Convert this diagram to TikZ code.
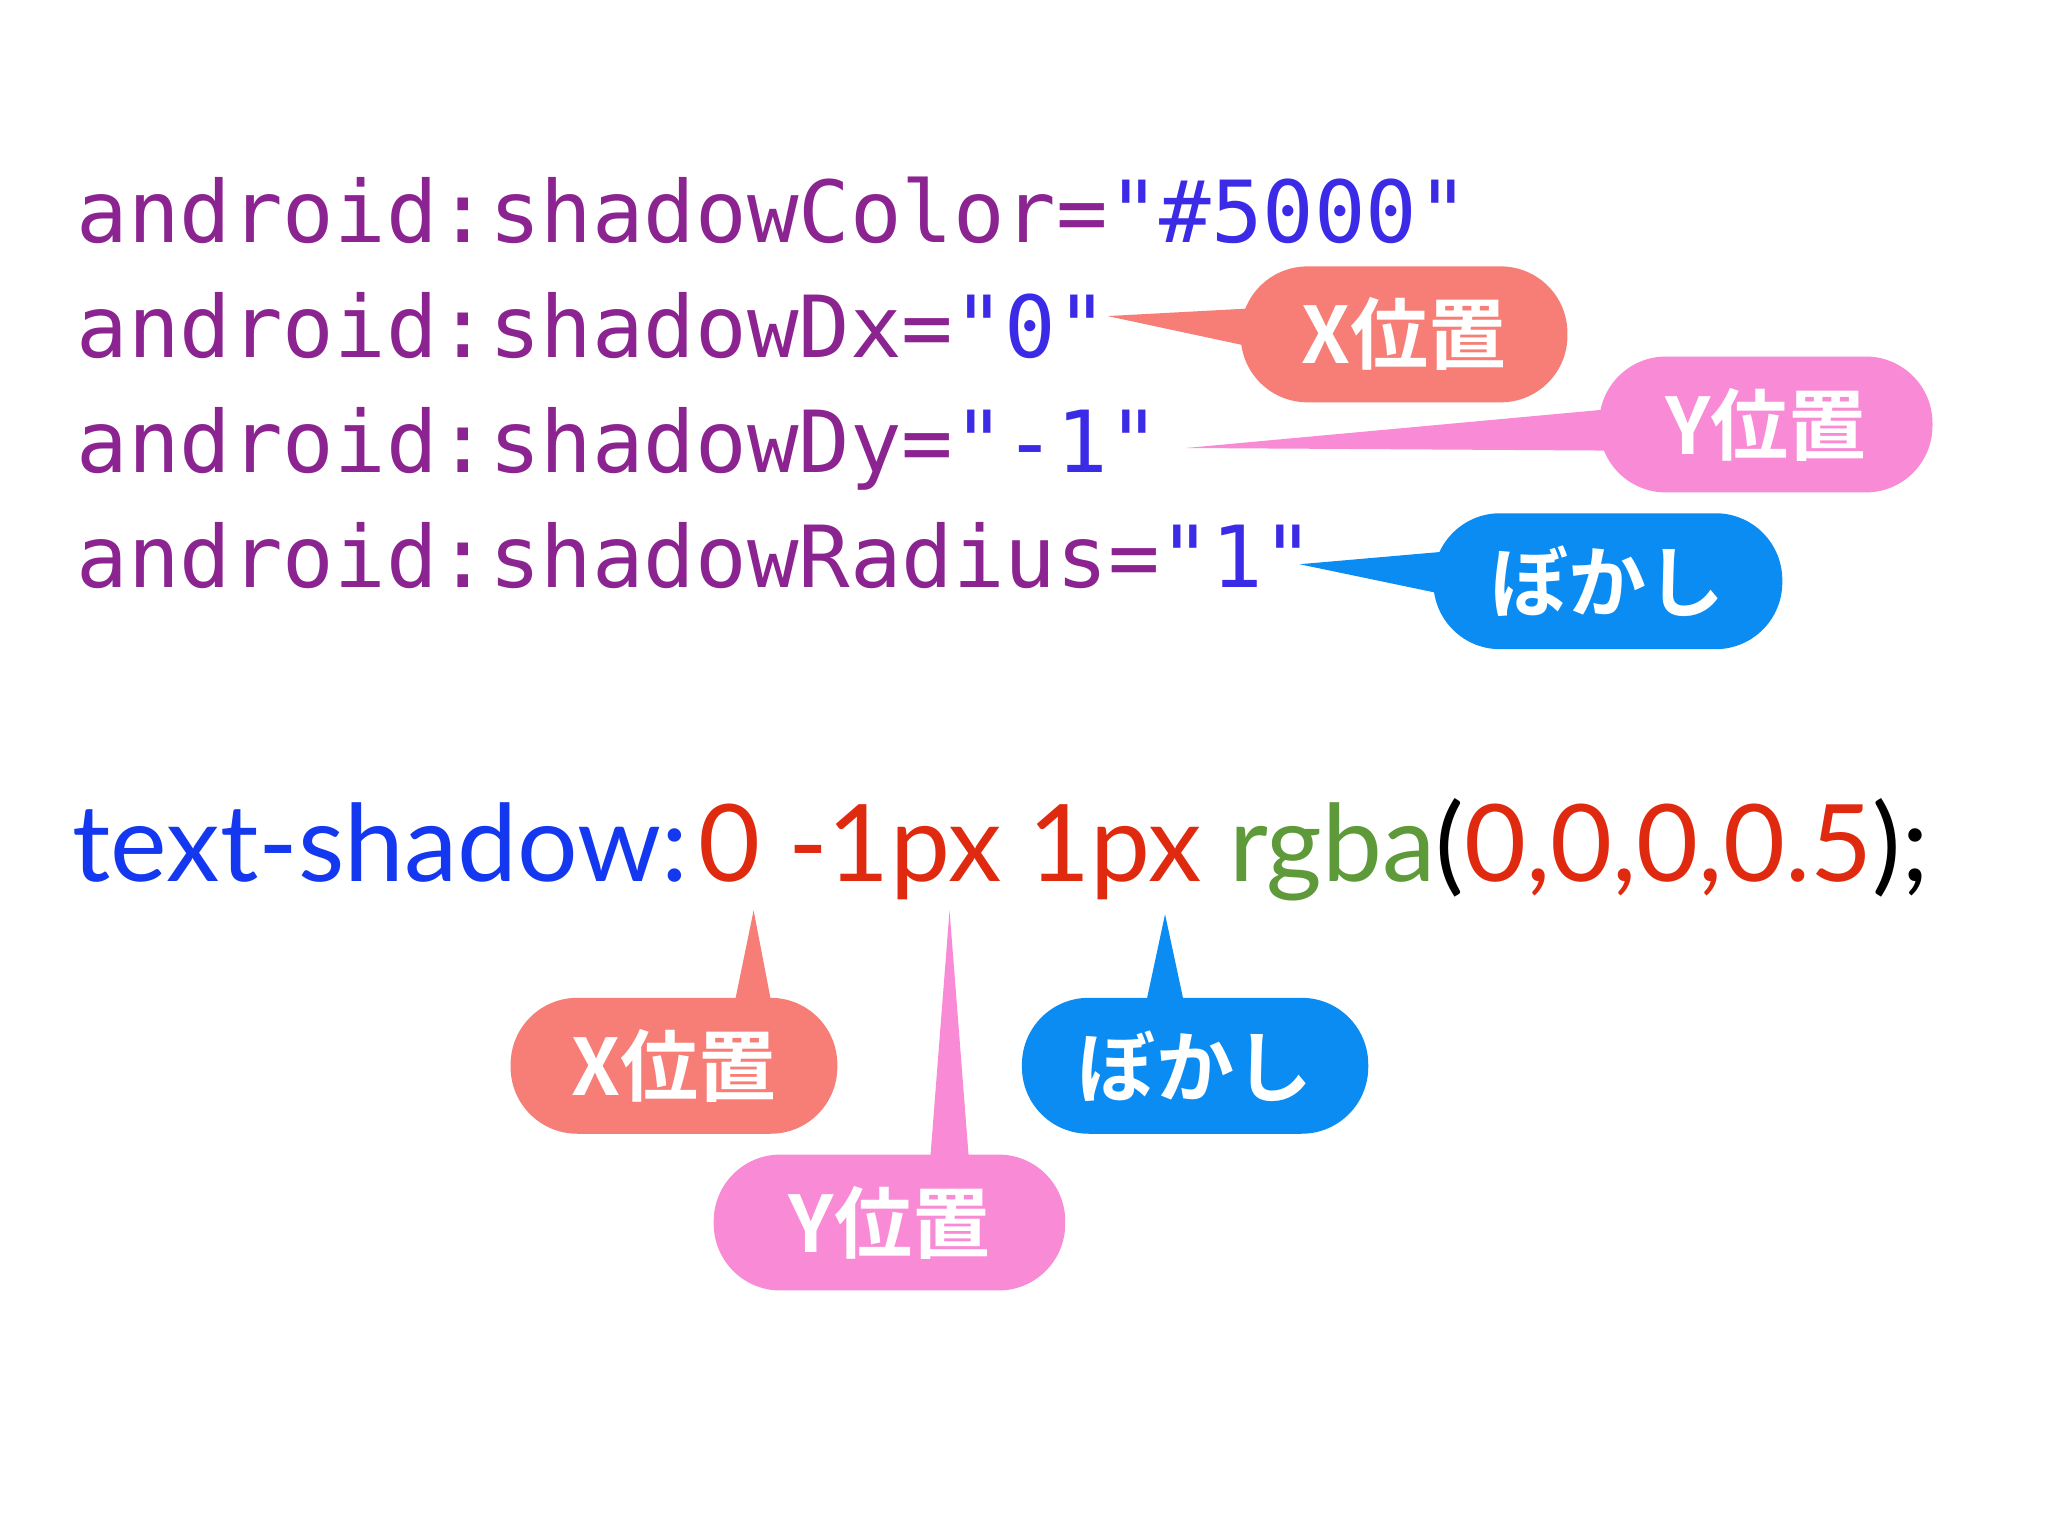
\documentclass[tikz,border=0pt]{standalone}
\usepackage{fontspec}
\setmainfont{Lato}
\setmonofont{DejaVu Sans Mono}
\newfontfamily\cjk{Noto Sans CJK JP}[BoldFont={Noto Sans CJK JP Bold}]
\definecolor{kw}{HTML}{8B2390}
\definecolor{val}{HTML}{3B2AE6}
\definecolor{cblue}{HTML}{1438F0}
\definecolor{cred}{HTML}{E02A10}
\definecolor{cgreen}{HTML}{5E9A3A}
\definecolor{salmon}{HTML}{F67E76}
\definecolor{pinkc}{HTML}{F98AD6}
\definecolor{bluec}{HTML}{0A8CF2}
\tikzset{x=0.01cm,y=-0.01cm,
 code/.style={anchor=base west,inner sep=0pt,font=\ttfamily\fontsize{18.65}{20}\selectfont},
 css/.style={anchor=base west,inner sep=0pt,font=\fontsize{23.3}{26}\selectfont},
 call/.style={rounded corners=0.51cm,minimum height=1.04cm,inner sep=0pt,text=white,font=\cjk\bfseries\fontsize{17}{18}\selectfont}}
\begin{document}
\begin{tikzpicture}
\useasboundingbox (0,0) rectangle (1568,1176);
\fill[white] (0,0) rectangle (1568,1176);
% code lines
\node[code,text=kw] (l1) at (58,186) {android:shadowColor=\textcolor{val}{"\#5000"}};
\node[code,text=kw] (l2) at (58,274) {android:shadowDx=\textcolor{val}{"0"}};
\node[code,text=kw] (l3) at (58,362) {android:shadowDy=\textcolor{val}{"-1"}};
\node[code,text=kw] (l4) at (58,450) {android:shadowRadius=\textcolor{val}{"1"}};
\node[css] (css) at (55,675) {\textcolor{cblue}{text-shadow:}\hspace{0.1em}\textcolor{cred}{0 -1px 1px} \textcolor{cgreen}{rgba}(\textcolor{cred}{0,0,0,0.5});};
% top callouts
\fill[salmon] (848,242) -- (960,236) -- (960,266) -- cycle;
\node[call,fill=salmon,minimum width=2.5cm] (tx) at (1075,256) {X位置};
\fill[pinkc] (908,343) -- (1235,313) -- (1235,345) -- cycle;
\node[call,fill=pinkc,minimum width=2.55cm] (ty) at (1352,325) {Y位置};
\fill[bluec] (995,432) -- (1110,422) -- (1110,456) -- cycle;
\node[call,fill=bluec,minimum width=2.67cm] (tb) at (1231,445) {ぼかし};
% bottom callouts
\fill[salmon] (577,697) -- (562,770) -- (591,770) -- cycle;
\node[call,fill=salmon,minimum width=2.5cm] (bx) at (516,816) {X位置};
\fill[bluec] (892,700) -- (877,770) -- (907,770) -- cycle;
\node[call,fill=bluec,minimum width=2.65cm] (bb) at (915,816) {ぼかし};
\fill[pinkc] (727,697) -- (712,890) -- (742,890) -- cycle;
\node[call,fill=pinkc,minimum width=2.69cm] (by) at (681,936) {Y位置};
\end{tikzpicture}
\end{document}
